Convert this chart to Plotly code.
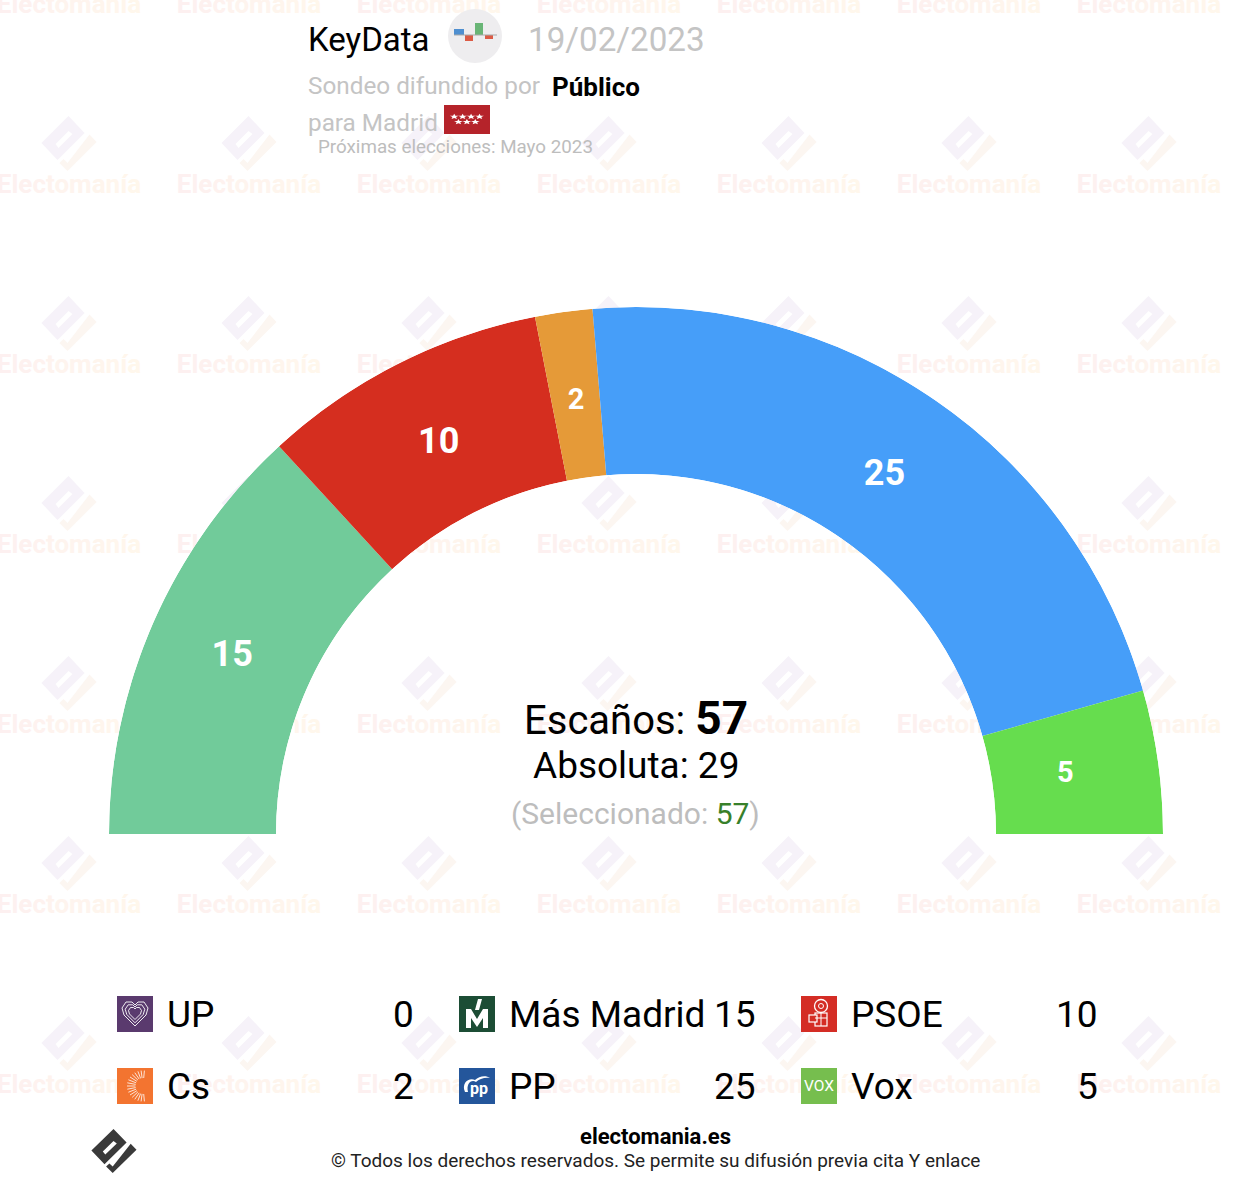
import base64
import math

import plotly.graph_objects as go

W, H = 1238, 1190

arc_parties = ['Más Madrid', 'PSOE', 'Cs', 'PP', 'Vox']
arc_seats = [15, 10, 2, 25, 5]
arc_colors = ['#71CB9A', '#D52E1F', '#E59A38', '#469EF9', '#66DD4E']
label_sizes = [36, 36, 29, 36, 29]
label_r = [0.485, 0.46, 0.46, 0.455, 0.44]

legend_names = ['UP', 'Más Madrid', 'PSOE', 'Cs', 'PP', 'Vox']
legend_seats = [0, 15, 10, 2, 25, 5]

total_seats = 57
majority = 29
selected = 57

FONT = 'Roboto'
GREY = '#C4C4C4'


def svg_uri(bg, body):
    svg = ('<svg xmlns="http://www.w3.org/2000/svg" width="144" height="144" viewBox="0 0 36 36">'
           f'<rect width="36" height="36" fill="{bg}"/>{body}</svg>')
    return 'data:image/svg+xml;base64,' + base64.b64encode(svg.encode()).decode()


def heart(s):
    # nested heart outline, s scales around icon centre
    pts = [(18, 30), (7, 19), (5, 12), (9, 6), (15, 6), (18, 9), (21, 6), (27, 6), (31, 12), (29, 19)]
    scaled = ' '.join(f'{18 + (x - 18) * s:.1f},{17 + (y - 17) * s:.1f}' for x, y in pts)
    return f'<polygon points="{scaled}" fill="none" stroke="white" stroke-width="0.9" stroke-linejoin="round"/>'


def cs_rays():
    out = ''
    for i in range(17):
        a = math.radians(85 + i * 190 / 16)
        out += (f'<line x1="{26 + 7.5 * math.cos(a):.1f}" y1="{18 - 8 * math.sin(a):.1f}" '
                f'x2="{26 + 16 * math.cos(a):.1f}" y2="{18 - 15.5 * math.sin(a):.1f}" '
                'stroke="white" stroke-width="0.8"/>')
    return out


def flag_stars():
    out = ''
    centres = [(8 + i * 6.6, 14.5) for i in range(4)] + [(11.3 + i * 6.6, 21) for i in range(3)]
    for cx, cy in centres:
        pts = []
        for k in range(10):
            r = 3.6 if k % 2 == 0 else 1.5
            a = math.radians(90 + k * 36)
            pts.append(f'{cx + r * math.cos(a):.1f},{cy - r * math.sin(a):.1f}')
        out += f'<polygon points="{" ".join(pts)}" fill="white"/>'
    return out


icons = {
    'UP': svg_uri('#5A3A6E', heart(1.0) + heart(0.75) + heart(0.5)),
    'Más Madrid': svg_uri('#1C4D35',
                          '<polygon points="7,32 7,13 12,13 18,23 24,13 29,13 29,32 24,32 24,22 18,31 12,22 12,32" fill="white"/>'
                          '<polygon points="19,3 23,3 20,14 16,14" fill="white"/>'),
    'PSOE': svg_uri('#D42D25',
                    '<circle cx="20" cy="10" r="6.5" fill="none" stroke="white" stroke-width="1.3"/>'
                    '<circle cx="20" cy="10" r="2.5" fill="none" stroke="white" stroke-width="1"/>'
                    '<rect x="14" y="17" width="12" height="13" fill="none" stroke="white" stroke-width="1.2"/>'
                    '<rect x="8" y="19" width="8" height="7" fill="#D42D25" stroke="white" stroke-width="1.2"/>'
                    '<line x1="14" y1="22" x2="26" y2="22" stroke="white"/>'
                    '<line x1="20" y1="17" x2="20" y2="30" stroke="white"/>'),
    'Cs': svg_uri('#F37430', cs_rays()),
    'PP': svg_uri('#24569B',
                  '<path d="M6 24 C2 15 10 9 16 12 C20 8 27 7 31 10 C26 9 20 11 17 14 C12 11 7 16 9 24 Z" fill="white"/>'),
    'Vox': svg_uri('#76BE4E', ''),
}
flag_uri = svg_uri('#B5232A', flag_stars())


def logo_paths(ox, oy, sx, sy):
    # logo drawn from its top vertex, shared by the watermark and the footer mark
    def p(points):
        return 'M' + ' L'.join(f'{ox + x * sx:.1f},{oy + y * sy:.1f}' for x, y in points) + ' Z'
    body = [(0, 0), (16, 17), (-11, 44), (-27, 27)]
    slot = [(-13, 28), (0, 15), (4, 18), (-10, 32)]
    hook = [(21, 18.5), (28, 26), (-1, 55), (-9, 47), (-5, 43), (-1, 47)]
    return p(body) + ' ' + p(slot), p(hook)


def letter_gradient(word):
    # watermark text fades from pink to pale orange
    start, end = (253, 240, 240), (255, 247, 236)
    out = ''
    for i, ch in enumerate(word):
        t = i / (len(word) - 1)
        rgb = [round(a + (b - a) * t) for a, b in zip(start, end)]
        out += f'<span style="color:rgb({rgb[0]},{rgb[1]},{rgb[2]})">{ch}</span>'
    return out


wm_x = [69 + 180 * i for i in range(7)]
wm_y = [4 + 180 * j for j in range(7)]

fig = go.Figure()

shapes = []
for y0 in wm_y[1:]:
    for x0 in wm_x:
        body, hook = logo_paths(x0 - 0.5, y0 - 68, 1, 1)
        shapes.append(dict(type='path', path=body, xref='x', yref='y', layer='below',
                           fillcolor='#F6F2F9', line_width=0, fillrule='evenodd'))
        shapes.append(dict(type='path', path=hook, xref='x', yref='y', layer='below',
                           fillcolor='#FCF6F1', line_width=0))

fig.add_trace(go.Scatter(
    x=[x for y in wm_y for x in wm_x],
    y=[y + 2 for y in wm_y for x in wm_x],
    mode='text',
    text=[letter_gradient('Electomanía') for y in wm_y for x in wm_x],
    textposition='middle center',
    textfont=dict(family=FONT, size=26, weight='bold'),
    hoverinfo='skip',
    cliponaxis=False,
))

# polar half ring, starts on the left and runs clockwise
starts = [sum(arc_seats[:i]) for i in range(len(arc_seats))]
thetas = [(s + v / 2) * 180 / total_seats for s, v in zip(starts, arc_seats)]
widths = [v * 180 / total_seats for v in arc_seats]

fig.add_trace(go.Barpolar(
    r=[1] * len(arc_seats),
    theta=thetas,
    width=widths,
    marker=dict(color=arc_colors, line_width=0),
    hoverinfo='skip',
    subplot='polar',
))
fig.add_trace(go.Scatterpolar(
    r=label_r,
    theta=thetas,
    mode='text',
    text=[str(v) for v in arc_seats],
    textposition='middle center',
    textfont=dict(family=FONT, size=label_sizes, color='white', weight='bold'),
    hoverinfo='skip',
    subplot='polar',
))


def note(x, y, text, size, color='black', anchor='left'):
    return dict(x=x, y=y, xref='x', yref='y', text=text, showarrow=False, xanchor=anchor, yanchor='middle',
                font=dict(family=FONT, size=size, color=color), borderpad=0, borderwidth=0)


annotations = [
    note(308, 39, 'KeyData', 33),
    note(528, 39, '19/02/2023', 33.2, GREY),
    note(308, 85, 'Sondeo difundido por', 24.3, GREY),
    note(552, 87, '<b>Público</b>', 26),
    note(308, 122, 'para Madrid', 24.3, GREY),
    note(318, 147, 'Próximas elecciones: Mayo 2023', 18.8, '#BDBDBD'),
    note(636, 718, f'Escaños: <b><span style="font-size:46px">{total_seats}</span></b>', 40, anchor='center'),
    note(636, 765, f'Absoluta: {majority}', 37, anchor='center'),
    note(635, 813, f'(Seleccionado: <span style="color:#38802A">{selected}</span>)', 30, '#BDBDBD', 'center'),
    note(655.5, 1136, '<b>electomania.es</b>', 22, anchor='center'),
    note(655.5, 1160, '© Todos los derechos reservados. Se permite su difusión previa cita Y enlace', 19, '#222222', 'center'),
]

images = []
col_x = [117, 459, 801]
row_y = [996, 1068]
for i, (name, seats) in enumerate(zip(legend_names, legend_seats)):
    x0 = col_x[i % 3]
    y0 = row_y[i // 3]
    images.append(dict(source=icons[name], xref='x', yref='y', x=x0, y=y0, sizex=36, sizey=36,
                       xanchor='left', yanchor='top', sizing='stretch', layer='above'))
    annotations.append(note(x0 + 50, y0 + 18, name, 37))
    annotations.append(note(x0 + 297, y0 + 18, str(seats), 37, anchor='right'))

annotations.append(note(col_x[1] + 20, row_y[1] + 20, '<b>pp</b>', 16, 'white', 'center'))
annotations.append(note(col_x[2] + 18, row_y[1] + 18, 'VOX', 15.5, 'white', 'center'))

images.append(dict(source=flag_uri, xref='x', yref='y', x=444, y=105, sizex=46, sizey=29,
                   xanchor='left', yanchor='top', sizing='stretch', layer='above'))

# pollster badge
shapes.append(dict(type='circle', xref='x', yref='y', x0=448, y0=9, x1=502, y1=63,
                   fillcolor='#EEEDEF', line_width=0))
for x0, y0, x1, y1, c in [(454, 29, 464, 35, '#4F8FD0'), (465, 35, 473, 41, '#DC5B45'),
                          (475, 23, 483, 35, '#69B576'), (485, 35, 493, 39, '#DC5B45')]:
    shapes.append(dict(type='rect', xref='x', yref='y', x0=x0, y0=y0, x1=x1, y1=y1,
                       fillcolor=c, line_width=0))
shapes.append(dict(type='line', xref='x', yref='y', x0=454, y0=35, x1=497, y1=35,
                   line=dict(color='#A9A9A9', width=1)))

body, hook = logo_paths(113.5, 1129, 0.82, 0.8)
shapes.append(dict(type='path', path=body, xref='x', yref='y', fillcolor='#3A3A3A', line_width=0, fillrule='evenodd'))
shapes.append(dict(type='path', path=hook, xref='x', yref='y', fillcolor='#3A3A3A', line_width=0))

fig.update_layout(
    width=W,
    height=H,
    autosize=False,
    showlegend=False,
    margin=dict(l=0, r=0, t=0, b=0),
    paper_bgcolor='white',
    plot_bgcolor='rgba(0,0,0,0)',
    xaxis=dict(range=[0, W], visible=False, domain=[0, 1], fixedrange=True),
    yaxis=dict(range=[H, 0], visible=False, domain=[0, 1], fixedrange=True),
    polar=dict(
        domain=dict(x=[109 / W, 1163 / W], y=[1 - 834.5 / H, 1 - 306.5 / H]),
        sector=[0, 180],
        hole=360 / 527,
        bgcolor='rgba(0,0,0,0)',
        radialaxis=dict(range=[0, 1], visible=False),
        angularaxis=dict(direction='clockwise', rotation=180, visible=False),
    ),
    shapes=shapes,
    images=images,
    annotations=annotations,
)

# page has a default body margin that would push the chart off by 8px
fig.write_html('out.html', config=dict(displayModeBar=False), post_script="document.body.style.margin='0';")
